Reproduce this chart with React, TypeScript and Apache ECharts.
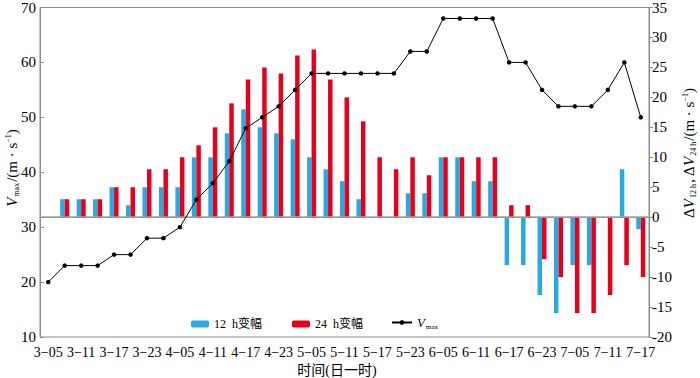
import React, { useEffect, useRef } from "react";
import * as echarts from "echarts";

const categories = [
  "3−05", "3−08", "3−11", "3−14", "3−17", "3−20", "3−23",
  "4−02", "4−05", "4−08", "4−11", "4−14", "4−17", "4−20", "4−23",
  "5−02", "5−05", "5−08", "5−11", "5−14", "5−17", "5−20", "5−23",
  "6−02", "6−05", "6−08", "6−11", "6−14", "6−17", "6−20", "6−23",
  "7−02", "7−05", "7−08", "7−11", "7−14", "7−17",
];

const change12h = [
  null, 3, 3, 3, 5, 2, 5, 5, 5, 10, 10, 14, 18, 15, 14, 13, 10, 8, 6, 3,
  0, 0, 4, 4, 10, 10, 6, 6, -8, -8, -13, -16, -8, -8, 0, 8, -2,
];

const change24h = [
  null, 3, 3, 3, 5, 5, 8, 8, 10, 12, 15, 19, 23, 25, 24, 27, 28, 23, 20, 16,
  10, 8, 10, 7, 10, 10, 10, 10, 2, 2, -7, -10, -16, -16, -13, -8, -10,
];

const vmax = [
  20, 23, 23, 23, 25, 25, 28, 28, 30, 35, 38, 42, 48, 50, 52, 55, 58, 58, 58, 58,
  58, 58, 62, 62, 68, 68, 68, 68, 60, 60, 55, 52, 52, 52, 55, 60, 50,
];

const leftTicks = { min: 10, max: 70, interval: 10 };
const rightTicks = { min: -20, max: 35, interval: 5 };

const FONT = "'Liberation Serif', 'Times New Roman', 'Noto Sans CJK SC', serif";
const BLUE = "#29a9e1";
const RED = "#e6001b";
const GRAY = "#8c8c8c";

export default function App() {
  const ref = useRef<HTMLDivElement>(null);

  useEffect(() => {
    document.body.style.margin = "0";
    if (!ref.current) return;
    const chart = echarts.init(ref.current, undefined, { renderer: "svg" });
    const richBase = {
      n: { fontFamily: FONT, fontSize: 15, color: "#000" },
      i: { fontFamily: FONT, fontSize: 15, fontStyle: "italic", color: "#000" },
      sub: { fontFamily: FONT, fontSize: 8, color: "#000", padding: [9, 1, 0, 1] },
      sup: { fontFamily: FONT, fontSize: 8, color: "#000", padding: [0, 0, 8, 0] },
    };
    chart.setOption({
      animation: false,
      textStyle: { fontFamily: FONT },
      grid: {
        left: 40,
        right: 51,
        top: 5,
        bottom: 41,
        show: true,
        borderColor: GRAY,
        borderWidth: 1,
      },
      legend: [
        {
          left: 186,
          top: 313,
          itemWidth: 18,
          itemHeight: 7,
          itemGap: 4,
          data: ["12 h变幅"],
          formatter: () => "12  h变幅",
          textStyle: { fontFamily: FONT, fontSize: 12, color: "#000" },
        },
        {
          left: 287,
          top: 313,
          itemWidth: 18,
          itemHeight: 7,
          data: ["24 h变幅"],
          formatter: () => "24  h变幅",
          textStyle: { fontFamily: FONT, fontSize: 12, color: "#000" },
        },
        {
          left: 386,
          top: 311,
          itemWidth: 20,
          itemHeight: 6,
          data: ["Vmax"],
          formatter: () => "{i|V}{s|max}",
          textStyle: {
            fontFamily: FONT,
            color: "#000",
            rich: {
              i: { fontFamily: FONT, fontSize: 13, fontStyle: "italic", color: "#000" },
              s: { fontFamily: FONT, fontSize: 7, color: "#000", padding: [8, 0, 0, 1] },
            },
          },
        },
      ],
      xAxis: {
        type: "category",
        data: categories,
        boundaryGap: true,
        axisLine: { lineStyle: { color: GRAY, width: 1 } },
        axisTick: {
          inside: true,
          length: 4,
          alignWithLabel: true,
          interval: 0,
          lineStyle: { color: GRAY },
        },
        axisLabel: {
          interval: 1,
          fontSize: 14,
          color: "#000",
          margin: 8,
          fontFamily: FONT,
        },
        splitLine: { show: false },
      },
      yAxis: [
        {
          type: "value",
          min: leftTicks.min,
          max: leftTicks.max,
          interval: leftTicks.interval,
          axisLine: { show: true, lineStyle: { color: GRAY } },
          axisTick: { show: true, inside: true, length: 4, lineStyle: { color: GRAY } },
          axisLabel: { fontSize: 15, color: "#000", margin: 4, fontFamily: FONT },
          splitLine: { show: false },
        },
        {
          type: "value",
          min: rightTicks.min,
          max: rightTicks.max,
          interval: rightTicks.interval,
          position: "right",
          axisLine: { show: true, lineStyle: { color: GRAY } },
          axisTick: { show: true, inside: false, length: 4, lineStyle: { color: GRAY } },
          axisLabel: { fontSize: 15, color: "#000", margin: 3, fontFamily: FONT },
          splitLine: { show: false },
        },
      ],
      series: [
        {
          name: "12 h变幅",
          type: "bar",
          yAxisIndex: 1,
          data: change12h,
          barWidth: 4.5,
          barGap: "0%",
          itemStyle: { color: BLUE },
          markLine: {
            silent: true,
            symbol: "none",
            label: { show: false },
            lineStyle: { color: "#a0a0a0", width: 1.5, type: "solid" },
            data: [{ yAxis: 0 }],
          },
        },
        {
          name: "24 h变幅",
          type: "bar",
          yAxisIndex: 1,
          data: change24h,
          barWidth: 4.5,
          barGap: "0%",
          itemStyle: { color: RED },
        },
        {
          name: "Vmax",
          type: "line",
          yAxisIndex: 0,
          data: vmax,
          symbol: "circle",
          symbolSize: 4.5,
          itemStyle: { color: "#000" },
          lineStyle: { color: "#000", width: 1 },
          z: 5,
        },
      ],
      graphic: [
        {
          type: "text",
          x: 12,
          y: 168,
          rotation: Math.PI / 2,
          style: {
            text: "{i|V}{sub|max}{n|/(m · s}{sup|−1}{n|)}",
            align: "center",
            verticalAlign: "middle",
            rich: richBase,
          },
        },
        {
          type: "text",
          x: 689,
          y: 153,
          rotation: Math.PI / 2,
          style: {
            text: "{n|Δ}{i|V}{sub|12 h}{n|, Δ}{i|V}{sub|24 h}{n|/(m · s}{sup|−1}{n|)}",
            align: "center",
            verticalAlign: "middle",
            rich: richBase,
          },
        },
        {
          type: "text",
          x: 337,
          y: 370,
          style: {
            text: "时间(日一时)",
            align: "center",
            verticalAlign: "middle",
            fontFamily: FONT,
            fontSize: 14,
            fill: "#000",
          },
        },
      ],
    });
    return () => chart.dispose();
  }, []);

  return <div ref={ref} style={{ width: 700, height: 378 }} />;
}
